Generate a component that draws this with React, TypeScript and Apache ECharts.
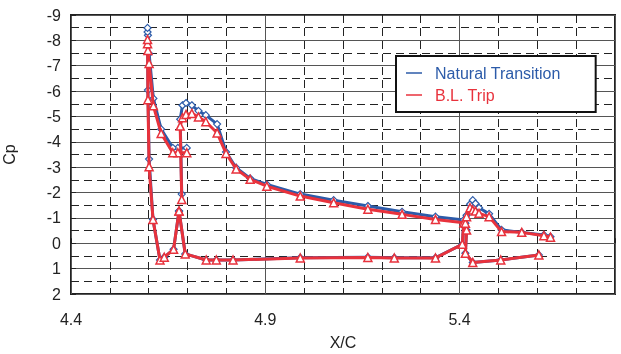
import React, { useEffect, useRef } from 'react';
import * as echarts from 'echarts';

// Natural Transition (blue)
const slatX = [4.698, 4.675, 4.662, 4.632, 4.612, 4.601, 4.598, 4.597, 4.597, 4.598, 4.601, 4.611, 4.629, 4.640, 4.664, 4.678];
const slatCpNat = [-3.76, -3.76, -3.76, -4.5, -5.71, -7.48, -8.2, -8.33, -8.49, -6.04, -3.32, -0.94, 0.66, 0.55, 0.24, -1.27];
const slatCpTrip = [-3.57, -3.57, -3.57, -4.33, -5.42, -7.09, -7.6, -7.87, -8.03, -5.66, -3.02, -0.94, 0.66, 0.55, 0.24, -1.27];

const mainX = [4.685, 4.681, 4.687, 4.696, 4.711, 4.728, 4.747, 4.776, 4.799, 4.825, 4.861, 4.904, 4.990, 5.076, 5.164, 5.252, 5.338, 5.411, 5.407, 5.338, 5.232, 5.164, 4.990, 4.817, 4.774, 4.748, 4.694, 4.678];
const mainCpNat = [-1.94, -4.89, -5.44, -5.53, -5.44, -5.22, -5.05, -4.7, -3.6, -2.98, -2.56, -2.32, -1.94, -1.7, -1.47, -1.24, -1.05, -0.92, 0.04, 0.57, 0.57, 0.55, 0.57, 0.66, 0.66, 0.66, 0.42, -1.27];
const mainCpTrip = [-1.73, -4.62, -4.95, -5.08, -5.12, -4.98, -4.79, -4.35, -3.54, -2.93, -2.52, -2.25, -1.86, -1.6, -1.34, -1.14, -0.94, -0.81, 0.04, 0.58, 0.58, 0.56, 0.58, 0.66, 0.66, 0.66, 0.42, -1.27];

const flapX = [5.604, 5.506, 5.434, 5.415, 5.418, 5.415, 5.418, 5.427, 5.434, 5.441, 5.450, 5.476, 5.508, 5.560, 5.617, 5.634];
const flapCpNat = [0.46, 0.66, 0.76, 0.39, -0.52, -0.79, -1.1, -1.54, -1.7, -1.57, -1.4, -1.16, -0.53, -0.43, -0.33, -0.26];
const flapCpTrip = [0.46, 0.66, 0.76, 0.39, -0.52, -0.79, -1.05, -1.4, -1.31, -1.27, -1.18, -1.05, -0.46, -0.43, -0.3, -0.24];

const seriesNames = ['Natural Transition', 'B.L. Trip'];
const BLUE = '#2c5ba9';
const RED = '#e8323c';
const FONT = '"Liberation Sans", Arial, Helvetica, sans-serif';

function build(segs: Array<[number[], number[]]>) {
  const out: any[] = [];
  segs.forEach(([xs, ys], si) => {
    if (si > 0) out.push('-');
    xs.forEach((x, i) => out.push([x, ys[i]]));
  });
  return out;
}

export default function App() {
  const ref = useRef<HTMLDivElement>(null);
  useEffect(() => {
    const chart = echarts.init(ref.current!, null, { renderer: 'svg' });
    const natData = build([[slatX, slatCpNat], [mainX, mainCpNat], [flapX, flapCpNat]]);
    const tripData = build([[slatX, slatCpTrip], [mainX, mainCpTrip], [flapX, flapCpTrip]]);
    const dashColorsX = ['rgba(0,0,0,0)', '#222', '#222', '#222', '#222'];
    chart.setOption({
      animation: false,
      textStyle: { fontFamily: FONT },
      grid: {
        left: 71, top: 15, right: 6, bottom: 60, show: true, borderColor: '#222', borderWidth: 2,
        backgroundColor: 'transparent', containLabel: false, outerBoundsMode: 'none',
      },
      legend: {
        orient: 'vertical',
        left: 396,
        top: 56,
        padding: [9, 35, 9, 10],
        itemGap: 6,
        itemWidth: 16,
        itemHeight: 1.5,
        icon: 'rect',
        backgroundColor: '#fff',
        borderColor: '#111',
        borderWidth: 2,
        borderRadius: 0,
        textStyle: { fontSize: 16, fontFamily: FONT, padding: [0, 0, 0, 8] },
        data: [
          { name: seriesNames[0], textStyle: { color: BLUE }, itemStyle: { color: BLUE, borderWidth: 0 } },
          { name: seriesNames[1], textStyle: { color: RED }, itemStyle: { color: RED, borderWidth: 0 } },
        ],
      },
      xAxis: [
        {
          type: 'value', min: 4.4, max: 5.8, interval: 0.1, position: 'bottom',
          axisLine: { show: false },
          axisTick: { show: true, inside: true, length: 5, lineStyle: { color: '#222' } },
          axisLabel: { show: false },
          splitLine: { show: true, lineStyle: { color: dashColorsX, type: [8, 5], width: 1 } },
        },
        {
          type: 'value', min: 4.4, max: 5.8, interval: 0.5, position: 'bottom',
          axisLine: { show: false },
          axisTick: { show: false },
          axisLabel: {
            show: true, fontSize: 16, color: '#222', margin: 17, fontFamily: FONT,
            formatter: (v: number) => (v > 5.75 ? '' : v.toFixed(1)),
          },
          splitLine: { show: true, lineStyle: { color: '#555', width: 1 } },
          name: 'X/C', nameLocation: 'middle', nameGap: 40,
          nameTextStyle: { fontSize: 16, color: '#222', fontFamily: FONT },
        },
      ],
      yAxis: [
        {
          type: 'value', min: -9, max: 2, interval: 0.5, inverse: true, position: 'left',
          axisLine: { show: false },
          axisTick: { show: true, inside: true, length: 5, lineStyle: { color: '#222' } },
          axisLabel: {
            show: true, fontSize: 16, color: '#222', margin: 10, fontFamily: FONT,
            formatter: (v: number) => (Math.abs(v - Math.round(v)) < 1e-6 ? String(Math.round(v) === 0 ? 0 : Math.round(v)) : ''),
          },
          splitLine: { show: true, lineStyle: { color: ['rgba(0,0,0,0)', '#222'], type: [8, 5], width: 1 } },
          name: 'Cp', nameLocation: 'middle', nameGap: 54,
          nameTextStyle: { fontSize: 16, color: '#222', fontFamily: FONT },
        },
        {
          type: 'value', min: -9, max: 2, interval: 1, inverse: true, position: 'left',
          axisLine: { show: false }, axisTick: { show: false }, axisLabel: { show: false },
          splitLine: { show: true, lineStyle: { color: '#555', width: 1 } },
        },
      ],
      series: [
        {
          name: seriesNames[0], type: 'line', xAxisIndex: 0, yAxisIndex: 0,
          data: natData, connectNulls: false,
          color: BLUE,
          lineStyle: { color: BLUE, width: 3 },
          symbol: 'diamond', symbolSize: 7,
          itemStyle: { color: '#fff', borderColor: BLUE, borderWidth: 1.2 },
          z: 3,
        },
        {
          name: seriesNames[1], type: 'line', xAxisIndex: 0, yAxisIndex: 0,
          data: tripData, connectNulls: false,
          color: RED,
          lineStyle: { color: RED, width: 3 },
          symbol: 'triangle', symbolSize: 8,
          itemStyle: { color: '#fff', borderColor: RED, borderWidth: 1.5 },
          z: 4,
        },
      ],
    });
    return () => chart.dispose();
  }, []);
  return <div ref={ref} style={{ position: 'fixed', left: 0, top: 0, width: 621, height: 354 }} />;
}
